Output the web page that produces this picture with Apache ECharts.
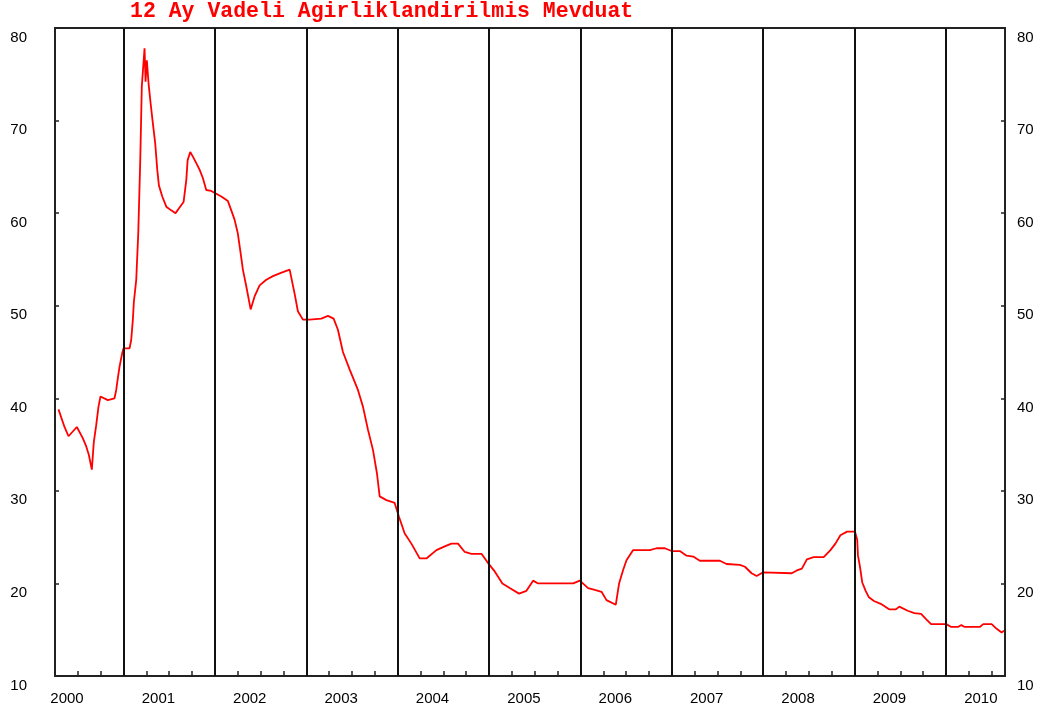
<!DOCTYPE html>
<html>
<head>
<meta charset="utf-8">
<title>12 Ay Vadeli Agirliklandirilmis Mevduat</title>
<script src="https://cdn.jsdelivr.net/npm/echarts@6/dist/echarts.min.js"></script>
<style>
  html, body { margin: 0; padding: 0; background: #fff; }
  #main { width: 1043px; height: 715px; }
</style>
</head>
<body>
<div id="main"></div>
<script>
// zaman (ondalik yil) ve faiz degerleri
var t = [
  2000.288, 2000.354, 2000.398, 2000.489, 2000.554, 2000.592, 2000.620, 2000.653, 2000.675, 2000.701,
  2000.726, 2000.748, 2000.828, 2000.901, 2000.920, 2000.938, 2000.956, 2000.986, 2001.000, 2001.066,
  2001.084, 2001.102, 2001.113, 2001.139, 2001.161, 2001.183, 2001.200, 2001.230, 2001.241, 2001.255,
  2001.274, 2001.296, 2001.321, 2001.347, 2001.369, 2001.387, 2001.424, 2001.468, 2001.522, 2001.569,
  2001.613, 2001.657, 2001.687, 2001.701, 2001.730, 2001.759, 2001.796, 2001.832, 2001.868, 2001.905,
  2001.960, 2002.015, 2002.070, 2002.142, 2002.179, 2002.215, 2002.251, 2002.281, 2002.306, 2002.343,
  2002.391, 2002.434, 2002.489, 2002.562, 2002.635, 2002.708, 2002.818, 2002.872, 2002.908, 2002.963,
  2003.037, 2003.165, 2003.237, 2003.299, 2003.346, 2003.401, 2003.475, 2003.565, 2003.620, 2003.675,
  2003.730, 2003.773, 2003.803, 2003.876, 2003.967, 2004.014, 2004.077, 2004.150, 2004.241, 2004.314,
  2004.424, 2004.515, 2004.588, 2004.660, 2004.734, 2004.807, 2004.917, 2004.989, 2005.062, 2005.146,
  2005.226, 2005.328, 2005.409, 2005.482, 2005.536, 2005.664, 2005.920, 2005.993, 2006.084, 2006.157,
  2006.231, 2006.285, 2006.387, 2006.423, 2006.467, 2006.504, 2006.577, 2006.759, 2006.833, 2006.924,
  2006.997, 2007.088, 2007.161, 2007.234, 2007.307, 2007.526, 2007.599, 2007.745, 2007.800, 2007.873,
  2007.928, 2008.000, 2008.313, 2008.368, 2008.423, 2008.478, 2008.552, 2008.662, 2008.736, 2008.790,
  2008.845, 2008.918, 2009.004, 2009.029, 2009.037, 2009.059, 2009.084, 2009.121, 2009.157, 2009.212,
  2009.286, 2009.378, 2009.452, 2009.489, 2009.581, 2009.654, 2009.728, 2009.782, 2009.837, 2010.003,
  2010.058, 2010.132, 2010.168, 2010.205, 2010.370, 2010.408, 2010.500, 2010.555, 2010.609, 2010.635
];
var rate = [
  38.8, 36.9, 35.9, 36.9, 35.7, 34.8, 33.9, 32.3, 35.3, 37.1,
  39.1, 40.2, 39.8, 40.0, 40.9, 42.2, 43.4, 44.9, 45.4, 45.4,
  46.3, 48.5, 50.4, 52.8, 57.8, 65.7, 73.7, 77.8, 74.2, 76.5,
  74.0, 71.9, 69.7, 67.5, 64.7, 63.0, 61.8, 60.7, 60.3, 60.0,
  60.6, 61.2, 63.6, 65.7, 66.6, 66.1, 65.4, 64.7, 63.8, 62.5,
  62.4, 62.1, 61.8, 61.3, 60.3, 59.3, 57.8, 55.7, 53.9, 52.1,
  49.6, 51.0, 52.2, 52.8, 53.2, 53.5, 53.9, 51.3, 49.4, 48.5,
  48.5, 48.6, 48.9, 48.6, 47.4, 45.0, 43.1, 40.9, 39.1, 36.6,
  34.4, 31.9, 29.4, 29.0, 28.7, 27.2, 25.4, 24.3, 22.7, 22.7,
  23.6, 24.0, 24.3, 24.3, 23.4, 23.2, 23.2, 22.2, 21.3, 20.0,
  19.5, 18.9, 19.2, 20.3, 20.0, 20.0, 20.0, 20.3, 19.5, 19.3,
  19.1, 18.2, 17.7, 20.0, 21.45, 22.5, 23.6, 23.6, 23.8, 23.8,
  23.5, 23.5, 23.0, 22.9, 22.45, 22.45, 22.1, 22.0, 21.8, 21.1,
  20.8, 21.2, 21.1, 21.4, 21.6, 22.6, 22.85, 22.85, 23.6, 24.3,
  25.2, 25.6, 25.6, 24.7, 23.0, 21.8, 20.1, 19.2, 18.5, 18.1,
  17.8, 17.2, 17.2, 17.5, 17.05, 16.8, 16.7, 16.15, 15.6, 15.6,
  15.3, 15.3, 15.5, 15.3, 15.3, 15.6, 15.6, 15.1, 14.7, 14.9
];
// yil ayirici dikey cizgiler
var yearLines = [2001, 2002, 2003, 2004, 2005, 2006, 2007, 2008, 2009, 2010];

var seriesData = [];
t.forEach(function (x, i) {
  seriesData.push([x, rate[i]]);
});

var myChart = echarts.init(document.getElementById('main'));

var labelFont = {
  fontFamily: 'Liberation Sans, Arial, sans-serif',
  fontSize: 15,
  color: '#000'
};

function yAxis (pos, margin) {
  return {
    type: 'value',
    position: pos,
    min: 10,
    max: 80,
    interval: 10,
    splitLine: { show: false },
    axisLine: { show: true, lineStyle: { color: '#222', width: 2 } },
    axisTick: { show: true, inside: true, length: 4, lineStyle: { color: '#222', width: 1.5 } },
    axisLabel: Object.assign({
      margin: margin,
      verticalAlign: 'top',
      padding: [2, 0, 0, 0]
    }, labelFont)
  };
}

var option = {
  animation: false,
  backgroundColor: '#fff',
  title: {
    text: '12 Ay Vadeli Agirliklandirilmis Mevduat',
    left: 130,
    top: 1,
    padding: 0,
    textStyle: {
      fontFamily: 'Liberation Mono, monospace',
      fontWeight: 'bold',
      fontSize: 21.5,
      color: '#ff0000'
    }
  },
  grid: {
    left: 55,
    right: 38,
    top: 28,
    bottom: 39,
    show: true,
    borderColor: '#222',
    borderWidth: 2
  },
  xAxis: {
    type: 'value',
    min: 2000.25,
    max: 2010.646,
    interval: 0.25,
    splitLine: { show: false },
    axisLine: { show: true, lineStyle: { color: '#222', width: 2 } },
    axisTick: { show: true, inside: true, length: 5, lineStyle: { color: '#222', width: 1.5 } },
    axisLabel: Object.assign({
      margin: 15,
      showMinLabel: true,
      showMaxLabel: false,
      align: 'center',
      padding: [0, 0, 0, 24],
      formatter: function (v) {
        var f = Math.round((v - Math.floor(v)) * 100);
        return f === 25 ? String(Math.floor(v)) : '';
      }
    }, labelFont)
  },
  yAxis: [yAxis('left', 28), yAxis('right', 12)],
  series: [{
    type: 'line',
    data: seriesData,
    showSymbol: false,
    lineStyle: { color: '#ff0000', width: 1.8 },
    markLine: {
      silent: true,
      symbol: ['none', 'none'],
      label: { show: false },
      lineStyle: { color: '#111', width: 2, type: 'solid' },
      data: yearLines.map(function (y) { return { xAxis: y }; })
    }
  }]
};

myChart.setOption(option);
</script>
</body>
</html>
